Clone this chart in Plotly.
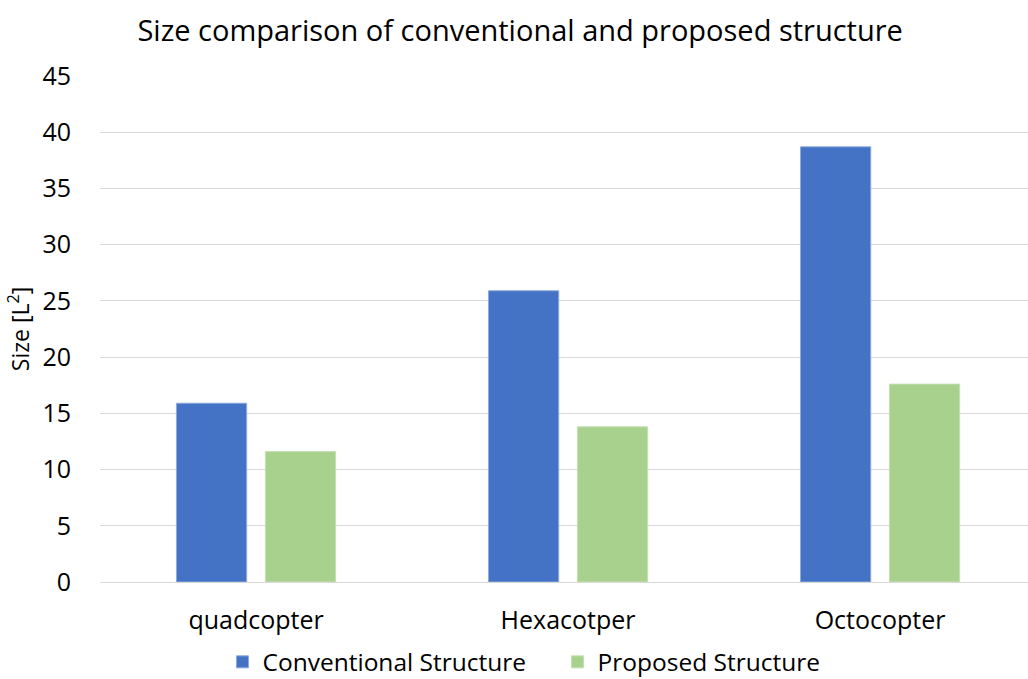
import plotly.graph_objects as go

categories = ["quadcopter", "Hexacotper", "Octocopter"]
conventional = [15.9, 25.9, 38.7]
proposed = [11.6, 13.8, 17.6]
y_ticks = [0, 5, 10, 15, 20, 25, 30, 35, 40, 45]

FONT = "Open Sans"
TEXT = "#262626"

fig = go.Figure()
fig.add_trace(go.Bar(
    x=categories, y=conventional, name="Conventional Structure",
    marker=dict(color="#4472C4", line=dict(color="#8FAADC", width=1)),
))
fig.add_trace(go.Bar(
    x=categories, y=proposed, name="Proposed Structure",
    marker=dict(color="#A9D18E", line=dict(color="#C5E0B4", width=1)),
))

fig.update_layout(
    width=1028, height=679,
    margin=dict(l=100, r=0, t=76, b=97, autoexpand=False),
    paper_bgcolor="white", plot_bgcolor="white",
    barmode="group", bargap=0.43, bargroupgap=0.21,
    title=dict(
        text="Size comparison of conventional and proposed structure",
        x=0.506, xanchor="center", y=0.955, yanchor="middle",
        font=dict(family=FONT, size=29, color="#000000"),
    ),
    font=dict(family=FONT, size=22, color=TEXT),
    legend=dict(
        orientation="h", x=0.132, xanchor="left", y=-0.158, yanchor="middle",
        font=dict(family=FONT, size=24.5, color="#000000"),
        itemwidth=30, entrywidth=290, traceorder="normal",
    ),
    showlegend=True,
)

fig.update_xaxes(
    type="category", range=[-0.5, 2.474],
    showgrid=False, showline=True, linecolor="#D9D9D9", linewidth=1,
    ticks="", tickfont=dict(family=FONT, size=25, color="#000000"),
    ticklabelstandoff=16,
)
fig.update_yaxes(
    range=[0, 45], tickvals=y_ticks,
    showgrid=True, gridcolor="#D9D9D9", gridwidth=1,
    zeroline=False, showline=False, ticks="",
    tickfont=dict(family=FONT, size=25, color="#000000"),
    ticklabelstandoff=28,
    title=dict(text="Size [L<sup>2</sup>]", font=dict(family=FONT, size=23, color="#000000"), standoff=6),
)

fig.write_html("out.html")
